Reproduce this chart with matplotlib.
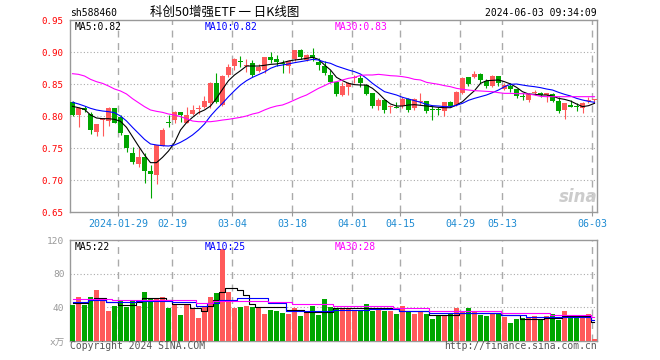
import numpy as np
import matplotlib
matplotlib.use("Agg")
import matplotlib.pyplot as plt

# 日K数据 (2024-01-17 ~ 2024-06-03)
opens = [.8224, .8016, .8130, .8031, .7755, .7943, .7927, .8125, .7990, .7703,
         .7427, .7250, .7365, .7141, .7078, .7531, .7896, .7938, .8068, .7896,
         .8031, .8115, .8135, .8208, .8521, .8172, .8641, .8781, .8844, .8776,
         .8823, .8703, .8719, .8917, .8885, .8817, .8781, .8885, .9031, .8875,
         .8953, .8844, .8781, .8641, .8536, .8328, .8458, .8599, .8599, .8484,
         .8354, .8161, .8250, .8141, .8146, .8156, .8260, .8120, .8224, .8229,
         .8094, .8094, .8083, .8219, .8172, .8354, .8604, .8604, .8656, .8552,
         .8469, .8625, .8417, .8469, .8417, .8297, .8250, .8365, .8354, .8328,
         .8339, .8234, .8094, .8172, .8146, .8120, .8234, .8255]
highs = [.8240, .8140, .8150, .8068, .7880, .7970, .8135, .8125, .8015, .7703,
         .7521, .7495, .7417, .7234, .7547, .7813, .8016, .8083, .8070, .8146,
         .8167, .8172, .8313, .8536, .8667, .8641, .8813, .8901, .8938, .8885,
         .8875, .8813, .8927, .9000, .8953, .8875, .8875, .9036, .9042, .8969,
         .9063, .8901, .8865, .8719, .8536, .8536, .8536, .8641, .8641, .8500,
         .8354, .8276, .8250, .8172, .8224, .8302, .8276, .8276, .8354, .8229,
         .8172, .8146, .8219, .8240, .8396, .8604, .8604, .8703, .8677, .8573,
         .8641, .8625, .8510, .8521, .8417, .8354, .8354, .8406, .8380, .8365,
         .8354, .8302, .8198, .8250, .8198, .8224, .8292, .8260]
lows = [.8000, .7833, .8060, .7719, .7687, .7687, .7844, .7890, .7708, .7443,
        .7250, .7208, .6958, .6724, .6937, .7531, .7823, .7896, .7911, .7890,
        .8016, .8031, .8120, .8130, .8198, .8156, .8604, .8719, .8760, .8693,
        .8604, .8688, .8667, .8833, .8781, .8667, .8667, .8865, .8885, .8865,
        .8865, .8719, .8641, .8510, .8313, .8313, .8328, .8510, .8448, .8328,
        .8120, .8094, .8052, .8052, .8120, .8120, .8068, .8094, .8172, .8052,
        .7937, .8016, .8000, .8135, .8156, .8344, .8469, .8589, .8521, .8432,
        .8458, .8469, .8406, .8380, .8276, .8250, .8224, .8328, .8302, .8224,
        .8224, .8052, .7953, .8135, .8083, .8052, .8198, .8198]
closes = [.8016, .8130, .8090, .7781, .7875, .7964, .8125, .7896, .7740, .7495,
          .7286, .7354, .7146, .7094, .7547, .7781, .7885, .8068, .8016, .8016,
          .8094, .8120, .8234, .8521, .8224, .8625, .8760, .8885, .8838, .8781,
          .8641, .8771, .8917, .8875, .8844, .8812, .8854, .9031, .8927, .8948,
          .8901, .8792, .8667, .8536, .8344, .8469, .8521, .8604, .8510, .8344,
          .8161, .8250, .8094, .8146, .8130, .8260, .8094, .8260, .8229, .8083,
          .8089, .8089, .8219, .8156, .8380, .8589, .8495, .8656, .8563, .8469,
          .8625, .8510, .8484, .8417, .8313, .8292, .8339, .8370, .8323, .8354,
          .8234, .8078, .8198, .8146, .8141, .8208, .8240, .8260]
ma5 = [.8151, .8130, .8104, .8016, .7969, .7958, .7958, .7948, .7917, .7823,
       .7677, .7531, .7391, .7271, .7271, .7354, .7453, .7583, .7781, .7896,
       .7979, .8052, .8094, .8156, .8276, .8417, .8552, .8641, .8708, .8781,
       .8781, .8781, .8792, .8807, .8813, .8833, .8859, .8875, .8885, .8901,
       .8917, .8885, .8797, .8719, .8604, .8552, .8510, .8490, .8484, .8484,
       .8432, .8354, .8260, .8188, .8156, .8156, .8172, .8177, .8167, .8156,
       .8146, .8135, .8130, .8130, .8172, .8224, .8313, .8396, .8510, .8552,
       .8557, .8563, .8536, .8500, .8448, .8380, .8344, .8339, .8328, .8328,
       .8313, .8276, .8260, .8234, .8188, .8146, .8161, .8198]
ma10 = [.8214, .8188, .8156, .8120, .8094, .8078, .8068, .8052, .8000, .7922,
        .7823, .7729, .7635, .7563, .7547, .7536, .7531, .7547, .7589, .7641,
        .7703, .7781, .7875, .8000, .8104, .8198, .8302, .8396, .8484, .8552,
        .8604, .8646, .8688, .8745, .8781, .8797, .8813, .8833, .8849, .8865,
        .8885, .8875, .8844, .8823, .8781, .8750, .8719, .8693, .8656, .8589,
        .8510, .8443, .8380, .8354, .8328, .8292, .8266, .8240, .8214, .8182,
        .8161, .8156, .8146, .8146, .8167, .8198, .8245, .8276, .8302, .8328,
        .8365, .8406, .8458, .8495, .8500, .8484, .8469, .8458, .8443, .8422,
        .8406, .8370, .8339, .8313, .8276, .8250, .8229, .8214]
ma30 = [.8661, .8651, .8625, .8573, .8536, .8510, .8469, .8422, .8391, .8344,
        .8271, .8208, .8146, .8094, .8073, .8057, .8031, .8016, .7990, .7958,
        .7922, .7911, .7911, .7911, .7922, .7937, .7948, .7964, .7979, .8000,
        .8031, .8052, .8094, .8130, .8156, .8172, .8208, .8250, .8292, .8328,
        .8380, .8432, .8474, .8521, .8536, .8563, .8589, .8604, .8635, .8641,
        .8641, .8651, .8641, .8630, .8625, .8615, .8599, .8573, .8563, .8526,
        .8510, .8495, .8474, .8458, .8432, .8417, .8406, .8396, .8391, .8385,
        .8380, .8365, .8354, .8354, .8349, .8349, .8344, .8328, .8307, .8302,
        .8302, .8302, .8302, .8302, .8302, .8302, .8302, .8302]

# 成交量 (万)
volumes = [42.8, 52.8, 42.8, 52.8, 60.8, 50.0, 35.6, 42.0, 47.6, 40.8,
           48.8, 42.0, 58.8, 51.6, 50.0, 52.8, 39.6, 42.8, 30.8, 42.8,
           38.8, 27.6, 40.8, 52.8, 57.6, 108.8, 58.8, 39.6, 40.8, 42.0,
           40.8, 39.6, 32.0, 36.8, 36.0, 33.6, 31.6, 38.8, 30.0, 32.8,
           42.0, 30.8, 50.0, 40.8, 38.8, 39.6, 38.8, 36.8, 36.8, 44.0,
           35.6, 38.8, 35.6, 35.6, 32.0, 41.6, 36.0, 32.0, 34.8, 32.0,
           26.0, 30.0, 30.8, 31.6, 39.6, 34.8, 39.6, 35.6, 30.8, 30.0,
           32.8, 31.6, 28.8, 21.6, 26.0, 26.8, 28.8, 30.0, 26.0, 30.0,
           31.6, 24.8, 35.6, 30.8, 30.0, 28.8, 32.0, 2.0]
vma5 = [45.6, 45.6, 45.6, 48.8, 50.8, 50.8, 46.8, 46.8, 42.8, 42.8,
        42.8, 46.0, 50.8, 50.8, 50.8, 50.8, 48.8, 43.6, 43.6, 43.6,
        38.8, 38.8, 35.6, 42.0, 48.8, 58.8, 62.8, 62.8, 60.8, 54.8,
        43.6, 40.0, 40.0, 40.0, 40.0, 40.0, 36.8, 36.8, 36.8, 34.0,
        34.0, 34.0, 34.0, 34.0, 39.6, 39.6, 39.6, 39.6, 39.6, 39.6,
        38.8, 38.8, 38.8, 38.8, 38.8, 35.6, 35.6, 35.6, 35.6, 35.6,
        30.8, 30.8, 30.8, 30.8, 30.8, 32.8, 32.8, 32.8, 32.8, 32.8,
        32.8, 32.8, 30.8, 30.8, 30.8, 26.0, 26.0, 26.0, 26.0, 27.6,
        27.6, 27.6, 30.0, 30.0, 30.0, 30.0, 30.0, 22.0]
vma10 = [46.8, 46.8, 46.8, 48.8, 48.8, 48.8, 46.8, 46.8, 46.8, 46.8,
         46.8, 47.6, 47.6, 47.6, 47.6, 47.6, 47.6, 46.0, 46.0, 46.0,
         46.0, 42.0, 42.0, 44.8, 44.8, 48.8, 48.8, 48.8, 50.8, 50.8,
         50.8, 50.8, 50.8, 44.8, 44.8, 44.8, 35.6, 35.6, 35.6, 35.6,
         35.6, 35.6, 35.6, 35.6, 36.8, 36.8, 36.8, 36.8, 36.8, 36.8,
         38.0, 38.0, 38.0, 38.0, 38.0, 35.6, 35.6, 35.6, 35.6, 35.6,
         32.8, 32.8, 32.8, 32.8, 32.8, 32.8, 32.8, 32.8, 32.8, 32.8,
         32.8, 32.8, 30.8, 30.8, 30.8, 30.8, 28.4, 28.4, 28.4, 28.4,
         28.4, 28.4, 28.4, 28.4, 28.4, 28.4, 28.4, 25.0]
vma30 = [50.0, 50.0, 50.0, 50.0, 50.0, 50.0, 50.0, 49.2, 49.2, 49.2,
         49.2, 49.2, 49.2, 49.2, 49.2, 49.2, 49.2, 49.2, 49.2, 49.2,
         49.2, 44.8, 44.8, 44.8, 47.6, 47.6, 47.6, 47.6, 47.6, 47.6,
         47.6, 47.6, 47.6, 46.0, 46.0, 46.0, 46.0, 43.6, 43.6, 43.6,
         43.6, 43.6, 43.6, 43.6, 41.6, 41.6, 41.6, 41.6, 41.6, 41.6,
         41.6, 41.6, 41.6, 41.6, 38.8, 38.8, 38.8, 38.8, 38.8, 38.8,
         35.6, 35.6, 35.6, 35.6, 35.6, 35.6, 35.6, 35.6, 35.6, 35.6,
         35.6, 35.6, 32.8, 32.8, 32.8, 32.8, 32.8, 32.8, 32.8, 32.8,
         30.8, 30.8, 30.8, 30.8, 30.8, 30.8, 30.8, 28.0]

# 日期刻度 (交易日序号)
tick_idx = [8, 17, 27, 37, 47, 55, 65, 72, 87]
tick_labels = ["2024-01-29", "02-19", "03-04", "03-18", "04-01",
               "04-15", "04-29", "05-13", "06-03"]

RED = "#ff5a5a"
GREEN = "#00a600"
GRID = "#aaaaaa"
FRAME = "#999999"
MONO = "DejaVu Sans Mono"
W, H = 660, 360

o = np.array(opens); c = np.array(closes)
hi = np.array(highs); lo = np.array(lows)
x = np.arange(len(c))
cols = np.where(c >= o, RED, GREEN)
grid_x = np.array(tick_idx) - 0.36

fig = plt.figure(figsize=(6.6, 3.6), dpi=100)
ax = fig.add_axes([70 / W, 1 - 212 / H, 527 / W, 192 / H])
ax2 = fig.add_axes([70 / W, 1 - 341 / H, 527 / W, 101 / H])
xlim = (-2.5 / 6, 524.5 / 6)

# K线
ax.vlines(x, lo, hi, colors=cols, lw=0.8, zorder=3)
ax.bar(x, np.maximum(np.abs(c - o), 0.0014), bottom=np.minimum(o, c),
       width=5 / 6, color=cols, lw=0, zorder=3)
ax.plot(x, ma5, color="black", lw=0.8, zorder=4)
ax.plot(x, ma10, color="#0000ff", lw=0.8, zorder=4)
ax.plot(x, ma30, color="#ff00ff", lw=0.8, zorder=4)

ax.set_xlim(*xlim)
ax.set_ylim(0.65, 0.95)
yt = np.arange(0.65, 0.951, 0.05)
ax.set_yticks(yt)
ax.set_yticklabels([f"{v:.2f}" for v in yt], color="red", fontsize=6.6, family=MONO)
ax.set_xticks(grid_x)
ax.set_xticklabels(tick_labels, color="#1e8bd2", fontsize=7.2, family=MONO)
ax.tick_params(axis="y", length=0, pad=5)
ax.tick_params(axis="x", length=3, color=FRAME, pad=2)
for v in yt[1:-1]:
    ax.axhline(v, color=GRID, lw=0.8, ls=(0, (1, 2)), zorder=1)
for v in grid_x:
    ax.axvline(v, color=GRID, lw=1.0, ls=(0, (5, 4)), zorder=1)

# 成交量
ax2.bar(x, volumes, width=5 / 6, color=cols, lw=0, zorder=3)
ax2.plot(x, vma5, color="black", lw=0.8, drawstyle="steps-mid", zorder=4)
ax2.plot(x, vma10, color="#0000ff", lw=0.8, drawstyle="steps-mid", zorder=4)
ax2.plot(x, vma30, color="#ff00ff", lw=0.8, drawstyle="steps-mid", zorder=4)
ax2.set_xlim(*xlim)
ax2.set_ylim(0, 120)
ax2.set_yticks([0, 40, 80, 120])
ax2.set_yticklabels(["x万", "40", "80", "120"], color=FRAME, fontsize=6.8)
for lab in ax2.get_yticklabels():
    lab.set_fontfamily([MONO, "Noto Sans CJK SC"])
ax2.tick_params(axis="y", length=0, pad=4)
ax2.tick_params(axis="x", bottom=False, labelbottom=False)
for v in [40, 80]:
    ax2.axhline(v, color=GRID, lw=0.8, ls=(0, (1, 2)), zorder=1)
for v in grid_x:
    ax2.axvline(v, color=GRID, lw=1.0, ls=(0, (5, 4)), zorder=1)

for a in (ax, ax2):
    for s in a.spines.values():
        s.set_color(FRAME)
        s.set_linewidth(1.0)


def ftext(px, py, s, **kw):
    fig.text(px / W, 1 - py / H, s, va="center", **kw)


ftext(70, 13, "sh588460", fontsize=7, family=MONO)
ftext(150, 12, "科创50增强ETF 一 日K线图", fontsize=9,
      family=["Noto Sans CJK SC", "DejaVu Sans"])
ftext(597, 13, "2024-06-03 09:34:09", fontsize=7, family=MONO, ha="right")
ftext(75, 26.5, "MA5:0.82", fontsize=7, family=MONO, color="black")
ftext(205, 26.5, "MA10:0.82", fontsize=7, family=MONO, color="#0000ff")
ftext(335, 26.5, "MA30:0.83", fontsize=7, family=MONO, color="#ff00ff")
ftext(75, 246.5, "MA5:22", fontsize=7, family=MONO, color="black")
ftext(205, 246.5, "MA10:25", fontsize=7, family=MONO, color="#0000ff")
ftext(335, 246.5, "MA30:28", fontsize=7, family=MONO, color="#ff00ff")
ftext(70, 346, "Copyright 2024 SINA.COM", fontsize=7, family=MONO, color="#555555")
ftext(597, 346, "http://finance.sina.com.cn", fontsize=7, family=MONO,
      color="#555555", ha="right")
ftext(578, 197, "sina", fontsize=12, fontweight="bold", style="italic",
      color="#cccccc", ha="center")

fig.savefig("out.png", dpi=100)
